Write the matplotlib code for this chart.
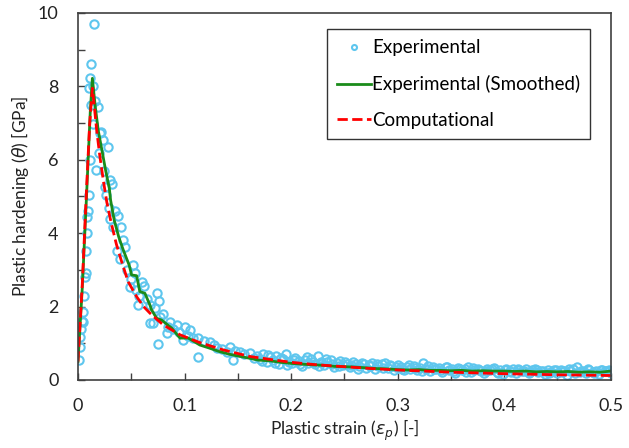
import numpy as np
import matplotlib.pyplot as plt

plt.rcParams['font.family'] = ['Lato', 'DejaVu Sans']
plt.rcParams['mathtext.fontset'] = 'dejavusans'

# Experimental points, rising part and peak
exp_x_peak = [0.0005, 0.0015, 0.0019, 0.0025, 0.0035, 0.0044, 0.005, 0.0055, 0.0065, 0.0075,
              0.0075, 0.0085, 0.0087, 0.0095, 0.0103, 0.011, 0.0106, 0.0113, 0.0122, 0.0153,
              0.0138, 0.012]
exp_y_peak = [0.55, 0.9, 1.16, 1.4, 1.6, 1.59, 1.86, 2.3, 2.8, 2.92,
              3.5, 4.0, 4.43, 4.6, 5.04, 6.0, 7.95, 8.22, 8.6, 9.69,
              6.97, 7.5]

# Experimental points, fast decay
exp_x_decay = [0.0145, 0.016, 0.019, 0.0216, 0.0206, 0.0237, 0.0279, 0.02, 0.0169, 0.0247,
               0.03, 0.0322, 0.0256, 0.0263, 0.0294, 0.0347, 0.0378, 0.03, 0.0331, 0.04,
               0.0441, 0.0363, 0.042, 0.039, 0.0519, 0.0535, 0.0597, 0.0488, 0.0566, 0.0675,
               0.046, 0.05, 0.054, 0.057, 0.062, 0.065, 0.0738, 0.0763, 0.0675, 0.0722,
               0.0769, 0.0706, 0.0863, 0.0926, 0.0832, 0.0753, 0.08, 0.084, 0.089, 0.095,
               0.1004, 0.105, 0.0988, 0.103, 0.108, 0.113, 0.118, 0.124, 0.113, 0.128,
               0.13, 0.135, 0.1426, 0.14, 0.147, 0.152, 0.1457, 0.156, 0.161, 0.165, 0.168]
exp_y_decay = [8.0, 7.6, 7.45, 6.77, 6.72, 6.54, 6.36, 6.18, 5.72, 5.68,
               5.45, 5.33, 5.27, 5.04, 4.68, 4.59, 4.47, 4.38, 4.16, 4.18,
               3.62, 3.5, 3.8, 3.3, 3.13, 2.91, 2.68, 2.53, 2.04, 1.54,
               3.0, 2.75, 2.45, 2.3, 2.55, 2.2, 2.36, 2.16, 2.04, 1.95,
               1.72, 1.54, 1.59, 1.5, 1.27, 0.98, 1.8, 1.45, 1.4, 1.3,
               1.44, 1.36, 1.09, 1.2, 1.15, 1.13, 1.05, 1.04, 0.62, 0.95,
               0.86, 0.85, 0.91, 0.75, 0.8, 0.77, 0.54, 0.7, 0.72, 0.6, 0.66]

# Experimental points, tail
exp_x_tail = [0.171, 0.174, 0.177, 0.180, 0.183, 0.186, 0.189, 0.192, 0.195, 0.198,
              0.201, 0.204, 0.207, 0.210, 0.213, 0.216, 0.219, 0.222, 0.225, 0.228,
              0.231, 0.234, 0.237, 0.240, 0.243, 0.246, 0.249, 0.252, 0.255, 0.258,
              0.261, 0.264, 0.267, 0.270, 0.273, 0.276, 0.279, 0.282, 0.285, 0.288,
              0.291, 0.294, 0.297, 0.300, 0.303, 0.306, 0.309, 0.312, 0.315, 0.318,
              0.321, 0.324, 0.327, 0.330, 0.333, 0.336, 0.339, 0.342, 0.345, 0.348,
              0.351, 0.354, 0.357, 0.360, 0.363, 0.366, 0.369, 0.372, 0.375, 0.378,
              0.381, 0.384, 0.387, 0.390, 0.393, 0.396, 0.399, 0.402, 0.405, 0.408,
              0.411, 0.414, 0.417, 0.420, 0.423, 0.426, 0.429, 0.432, 0.435, 0.438,
              0.441, 0.444, 0.447, 0.450, 0.453, 0.456, 0.459, 0.462, 0.465, 0.468,
              0.471, 0.474, 0.477, 0.480, 0.483, 0.486, 0.489, 0.492, 0.495, 0.498, 0.500]
exp_y_tail = [0.58, 0.70, 0.49, 0.62, 0.55, 0.66, 0.42, 0.58, 0.70, 0.50,
              0.45, 0.60, 0.52, 0.38, 0.55, 0.47, 0.58, 0.42, 0.64, 0.50,
              0.40, 0.48, 0.54, 0.36, 0.46, 0.52, 0.40, 0.44, 0.34, 0.50,
              0.42, 0.38, 0.47, 0.33, 0.41, 0.45, 0.30, 0.39, 0.43, 0.47,
              0.33, 0.37, 0.28, 0.40, 0.34, 0.26, 0.36, 0.31, 0.38, 0.27,
              0.33, 0.45, 0.30, 0.24, 0.35, 0.29, 0.32, 0.22, 0.34, 0.27,
              0.30, 0.20, 0.33, 0.26, 0.29, 0.35, 0.21, 0.28, 0.31, 0.24,
              0.19, 0.30, 0.26, 0.33, 0.22, 0.28, 0.16, 0.29, 0.25, 0.31,
              0.20, 0.27, 0.23, 0.30, 0.18, 0.26, 0.29, 0.21, 0.25, 0.15,
              0.28, 0.22, 0.26, 0.19, 0.27, 0.23, 0.14, 0.25, 0.29, 0.36,
              0.21, 0.24, 0.18, 0.27, 0.22, 0.25, 0.16, 0.26, 0.23, 0.28, 0.20]

exp_x_tail2 = [0.1725, 0.1785, 0.1845, 0.1905, 0.1965, 0.2025, 0.2085, 0.2145, 0.2205, 0.2265,
               0.2325, 0.2385, 0.2445, 0.2505, 0.2565, 0.2625, 0.2685, 0.2745, 0.2805, 0.2865,
               0.2925, 0.2985, 0.3045, 0.3105, 0.3165, 0.3225, 0.3285, 0.3345, 0.3405, 0.3465,
               0.3525, 0.3585, 0.3645, 0.3705, 0.3765, 0.3825, 0.3885, 0.3945, 0.4005, 0.4065,
               0.4125, 0.4185, 0.4245, 0.4305, 0.4365, 0.4425, 0.4485, 0.4545, 0.4605, 0.4665,
               0.4725, 0.4785, 0.4845, 0.4905, 0.4965]
exp_y_tail2 = [0.52, 0.68, 0.45, 0.61, 0.40, 0.55, 0.44, 0.62, 0.49, 0.37,
               0.56, 0.43, 0.39, 0.49, 0.41, 0.31, 0.44, 0.37, 0.42, 0.32,
               0.40, 0.35, 0.29, 0.41, 0.33, 0.25, 0.37, 0.31, 0.27, 0.36,
               0.24, 0.30, 0.22, 0.33, 0.27, 0.23, 0.30, 0.19, 0.26, 0.22,
               0.31, 0.25, 0.21, 0.28, 0.24, 0.18, 0.27, 0.22, 0.30, 0.19,
               0.25, 0.29, 0.20, 0.27, 0.24]

# Smoothed experimental curve
smooth_x = [0, 0.004, 0.008, 0.0115, 0.0135, 0.016, 0.019, 0.0222, 0.026, 0.0294,
            0.0306, 0.034, 0.0382, 0.0425, 0.048, 0.0503, 0.055, 0.058, 0.0628, 0.0675,
            0.069, 0.0738, 0.0785, 0.088, 0.0957, 0.1035, 0.1144, 0.123, 0.133, 0.142,
            0.152, 0.161, 0.169, 0.18, 0.19, 0.2, 0.21, 0.22, 0.23, 0.24,
            0.25, 0.26, 0.27, 0.28, 0.29, 0.3, 0.31, 0.32, 0.33, 0.34,
            0.35, 0.36, 0.37, 0.38, 0.39, 0.4, 0.41, 0.42, 0.43, 0.44,
            0.45, 0.46, 0.47, 0.48, 0.49, 0.5]
smooth_y = [0.5, 2.5, 5.0, 7.3, 8.22, 7.5, 6.8, 6.3, 5.7, 5.22,
            4.9, 4.35, 3.9, 3.54, 3.13, 2.86, 2.84, 2.41, 2.36, 2.04,
            1.91, 1.68, 1.63, 1.41, 1.14, 1.14, 0.95, 0.87, 0.77, 0.70,
            0.64, 0.59, 0.54, 0.52, 0.48, 0.45, 0.43, 0.41, 0.40, 0.37,
            0.36, 0.35, 0.33, 0.31, 0.30, 0.28, 0.27, 0.28, 0.26, 0.26,
            0.25, 0.26, 0.24, 0.25, 0.24, 0.24, 0.23, 0.24, 0.22, 0.23,
            0.22, 0.23, 0.21, 0.22, 0.21, 0.24]

# Computational curve
comp_x = [0, 0.004, 0.008, 0.011, 0.0135, 0.0155, 0.0175, 0.0205, 0.0237, 0.027,
          0.031, 0.036, 0.041, 0.047, 0.055, 0.0615, 0.0675, 0.074, 0.08, 0.0957,
          0.114, 0.136, 0.161, 0.18, 0.2, 0.225, 0.25, 0.275, 0.3, 0.325,
          0.35, 0.375, 0.4, 0.425, 0.45, 0.475, 0.5]
comp_y = [0.5, 2.6, 5.2, 7.0, 7.95, 7.4, 6.81, 6.1, 5.45, 4.85,
          4.3, 3.7, 3.22, 2.68, 2.27, 2.0, 1.82, 1.65, 1.5, 1.23,
          1.02, 0.82, 0.64, 0.56, 0.48, 0.41, 0.36, 0.31, 0.27, 0.24,
          0.21, 0.19, 0.17, 0.155, 0.14, 0.13, 0.12]

x_ticks = [0, 0.1, 0.2, 0.3, 0.4, 0.5]
x_tick_labels = ['0', '0.1', '0.2', '0.3', '0.4', '0.5']
y_ticks = [0, 2, 4, 6, 8, 10]
y_tick_labels = ['0', '2', '4', '6', '8', '10']

exp_x = exp_x_peak + exp_x_decay + exp_x_tail + exp_x_tail2
exp_y = exp_y_peak + exp_y_decay + exp_y_tail + exp_y_tail2

fig = plt.figure(figsize=(6.29, 4.48), dpi=100)
ax = fig.add_axes([0.124, 0.152, 0.847, 0.819])

ax.plot(exp_x, exp_y, 'o', markerfacecolor='none', markeredgecolor='#5ec6ee',
        markersize=6, markeredgewidth=1.5, label='Experimental')
ax.plot(smooth_x, smooth_y, color='#1a8c1a', lw=2, label='Experimental (Smoothed)')
ax.plot(comp_x, comp_y, '--', color='#ff0000', lw=2, label='Computational')

ax.set_xlim(0, 0.5)
ax.set_ylim(0, 10)
ax.set_xticks(x_ticks)
ax.set_xticklabels(x_tick_labels)
ax.set_xticks([0.05, 0.15, 0.25, 0.35, 0.45], minor=True)
ax.set_yticks(y_ticks)
ax.set_yticklabels(y_tick_labels)
ax.set_yticks([1, 3, 5, 7, 9], minor=True)
ax.tick_params(which='both', direction='in', length=5, width=1, color='#404040',
               labelsize=13, labelcolor='#222222')
ax.tick_params(axis='x', which='both', pad=13)
ax.tick_params(axis='y', which='both', pad=14)
for s in ax.spines.values():
    s.set_color('#404040')
    s.set_linewidth(1.2)

ax.set_xlabel(r'Plastic strain ($\varepsilon_p$) [-]', fontsize=12.5, color='#222222', labelpad=3)
ax.set_ylabel(r'Plastic hardening ($\theta$) [GPa]', fontsize=12.5, color='#222222', labelpad=5)

leg = ax.legend(loc='upper left', bbox_to_anchor=(0.467, 0.956), borderaxespad=0,
                fontsize=13.5, frameon=True, fancybox=False, edgecolor='#333333',
                framealpha=1, handlelength=1.8, handletextpad=0.05, labelspacing=1.0,
                borderpad=0.55, markerscale=0.6)
leg.get_frame().set_linewidth(1)

fig.savefig('out.png', dpi=100)
